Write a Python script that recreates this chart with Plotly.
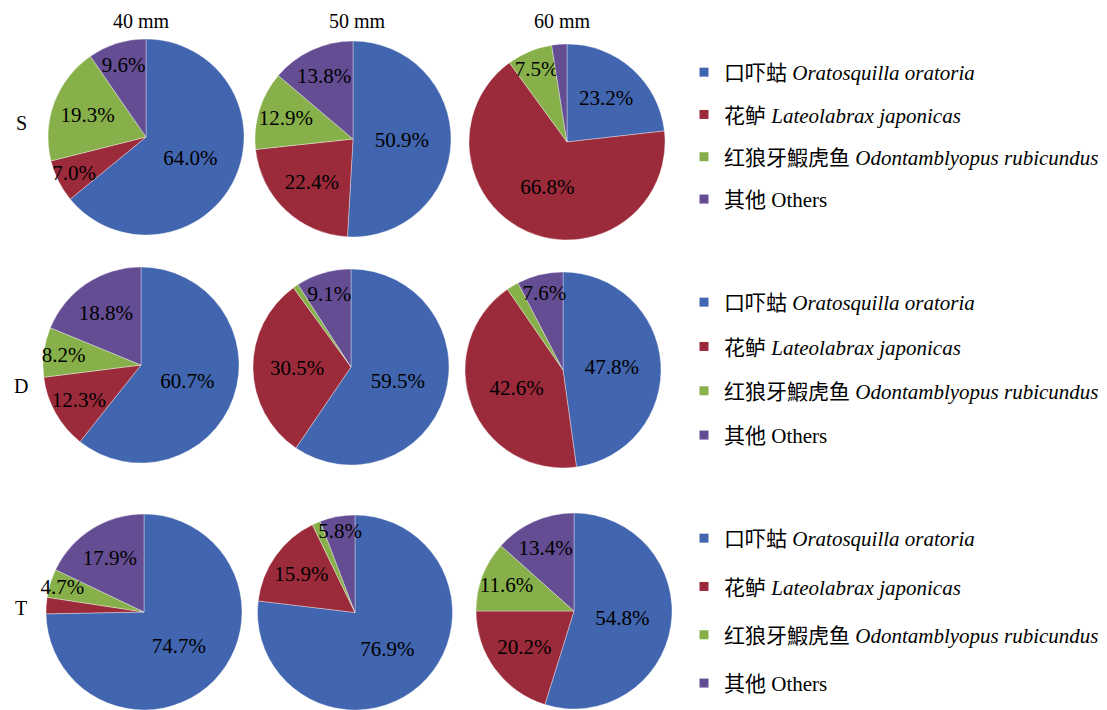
import plotly.graph_objects as go

# Diet composition (%) by site (S, D, T) and body-length class
species = [
    "口吓蛄 <i>Oratosquilla oratoria</i>",
    "花鲈 <i>Lateolabrax japonicas</i>",
    "红狼牙鰕虎鱼 <i>Odontamblyopus rubicundus</i>",
    "其他 Others",
]
size_classes = ["40 mm", "50 mm", "60 mm"]
sites = ["S", "D", "T"]

site_S = [[64.0, 7.0, 19.3, 9.6], [50.9, 22.4, 12.9, 13.8], [23.2, 66.8, 7.5, 2.5]]
site_D = [[60.7, 12.3, 8.2, 18.8], [59.5, 30.5, 0.9, 9.1], [47.8, 42.6, 2.0, 7.6]]
site_T = [[74.7, 2.7, 4.7, 17.9], [76.9, 15.9, 1.4, 5.8], [54.8, 20.2, 11.6, 13.4]]

# which slices carry a percentage label
labelled_S = [[1, 1, 1, 1], [1, 1, 1, 1], [1, 1, 1, 0]]
labelled_D = [[1, 1, 1, 1], [1, 1, 0, 1], [1, 1, 0, 1]]
labelled_T = [[1, 0, 1, 1], [1, 1, 0, 1], [1, 1, 1, 1]]

colors = ["#4165AE", "#9B2A3B", "#87B04B", "#654D93"]

W, H = 1107, 710
FONT = "Liberation Serif, Times New Roman, Noto Sans CJK SC, serif"

# pie centres (px) per row and column, common radius
centres = [
    [(146, 137), (353, 139), (567, 142)],
    [(141, 365), (351, 367), (563, 370)],
    [(144, 612), (355, 613), (574, 611)],
]
R = 98

fig = go.Figure()
all_vals = [site_S, site_D, site_T]
all_lab = [labelled_S, labelled_D, labelled_T]
legend_ids = ["legend", "legend2", "legend3"]

for r in range(3):
    for c in range(3):
        vals = all_vals[r][c]
        lab = all_lab[r][c]
        text = [f"{v:.1f}%" if k else "" for v, k in zip(vals, lab)]
        cx, cy = centres[r][c]
        fig.add_trace(go.Pie(
            labels=species,
            values=vals,
            text=text,
            textinfo="text",
            textposition="inside",
            insidetextorientation="horizontal",
            textfont=dict(family=FONT, size=21, color="black"),
            sort=False,
            direction="clockwise",
            rotation=0,
            marker=dict(colors=colors, line=dict(color="rgba(255,255,255,0.35)", width=1)),
            domain=dict(x=[(cx - R) / W, (cx + R) / W],
                        y=[max(0, 1 - (cy + R) / H), min(1, 1 - (cy - R) / H)]),
            showlegend=False,
            hoverinfo="label+percent",
        ))

# legend entries for each row
for r in range(3):
    for i, name in enumerate(species):
        fig.add_trace(go.Scatter(
            x=[None], y=[None], mode="markers", name=name,
            marker=dict(symbol="square", size=9, color=colors[i]),
            legend=legend_ids[r], legendgroup=f"{r}-{i}", showlegend=True,
        ))

legend_tops = [52, 282, 518]
gaps = [12, 14, 18]
for r in range(3):
    key = "legend" if r == 0 else f"legend{r + 1}"
    fig.update_layout(**{key: dict(
        x=684 / W, y=1 - legend_tops[r] / H, xanchor="left", yanchor="top",
        font=dict(family=FONT, size=21, color="black"),
        bgcolor="rgba(0,0,0,0)", tracegroupgap=gaps[r], itemwidth=30,
    )})

# column titles and row labels
title_x = [141, 357, 562]
for c, name in enumerate(size_classes):
    fig.add_annotation(x=title_x[c] / W, y=1 - 21 / H, text=name, showarrow=False,
                       xref="paper", yref="paper", xanchor="center", yanchor="middle",
                       font=dict(family=FONT, size=20, color="black"))
row_label_y = [123, 386, 608]
for r, name in enumerate(sites):
    fig.add_annotation(x=21 / W, y=1 - row_label_y[r] / H, text=name, showarrow=False,
                       xref="paper", yref="paper", xanchor="center", yanchor="middle",
                       font=dict(family=FONT, size=20, color="black"))

fig.update_layout(
    width=W, height=H,
    margin=dict(l=0, r=0, t=0, b=0),
    paper_bgcolor="white", plot_bgcolor="white",
    uniformtext=dict(minsize=21, mode="show"),
    xaxis=dict(visible=False), yaxis=dict(visible=False),
)

fig.write_html("out.html")
